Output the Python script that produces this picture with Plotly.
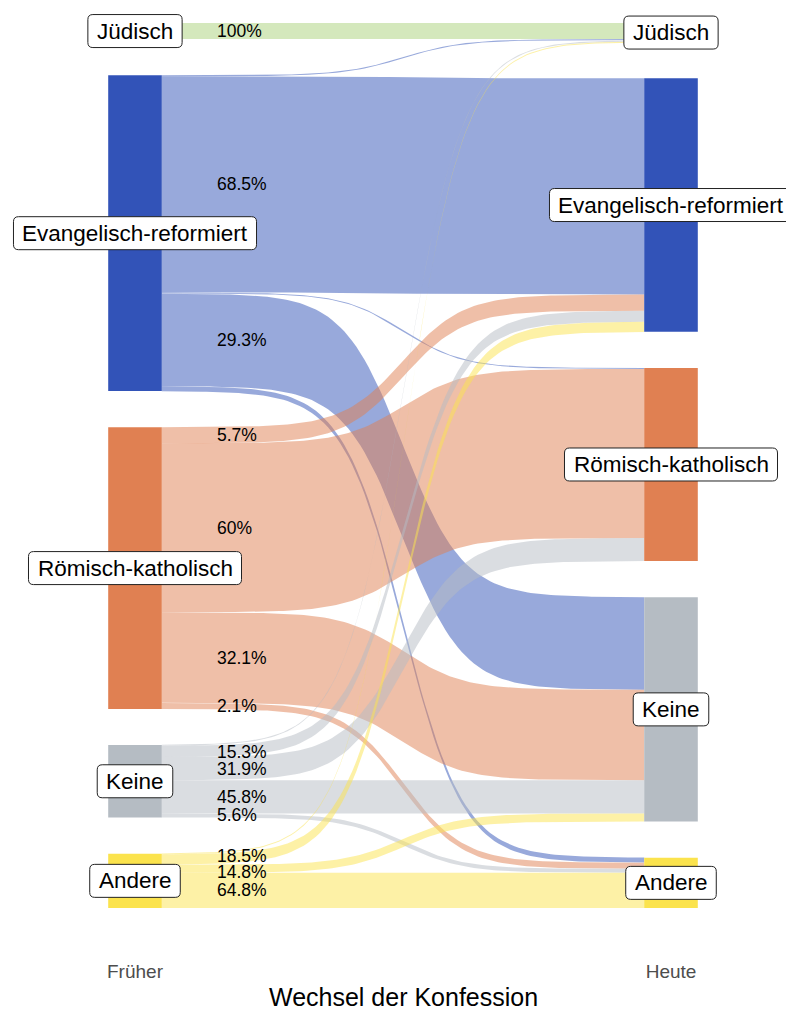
import numpy as np
import plotly.graph_objects as go

# ---------------- data ----------------
nodes = ["Jüdisch", "Evangelisch-reformiert", "Römisch-katholisch", "Keine", "Andere"]
node_colors = ["#a9d279", "#3253b8", "#e08052", "#b5bcc3", "#fbe34d"]
flow_colors = ["rgba(169,210,121,0.5)", "rgba(50,83,184,0.5)", "rgba(224,128,82,0.5)",
               "rgba(181,188,195,0.5)", "rgba(251,227,77,0.5)"]

flow_source = ["Jüdisch",
               "Evangelisch-reformiert", "Evangelisch-reformiert", "Evangelisch-reformiert",
               "Evangelisch-reformiert", "Evangelisch-reformiert",
               "Römisch-katholisch", "Römisch-katholisch", "Römisch-katholisch", "Römisch-katholisch",
               "Keine", "Keine", "Keine", "Keine", "Keine",
               "Andere", "Andere", "Andere", "Andere"]
flow_target = ["Jüdisch",
               "Jüdisch", "Evangelisch-reformiert", "Römisch-katholisch", "Keine", "Andere",
               "Evangelisch-reformiert", "Römisch-katholisch", "Keine", "Andere",
               "Jüdisch", "Evangelisch-reformiert", "Römisch-katholisch", "Keine", "Andere",
               "Jüdisch", "Evangelisch-reformiert", "Keine", "Andere"]
flow_count = [16,
              1, 215, 1, 92, 5,
              16, 168, 90, 6,
              1, 11, 23, 33, 4,
              1, 10, 8, 35]

axis_labels = ["Früher", "Heute"]
axis_title = "Wechsel der Konfession"

# ---------------- layout parameters ----------------
GAP = 36          # space between nodes (count units)
NODE_W = 0.1      # node width (x units)
SMOOTH = 8
LABEL_MIN_PCT = 2.0
FONT = "Liberation Sans, Arial, sans-serif"
NODE_FS = 22.5
PCT_FS = 17.5

# page has an 8px body margin: figure occupies page x 8..794, y 8..1010
OFF = 8
W = 794 - OFF
H = 1010 - OFF
PLOT_H = 958 - OFF          # plot area bottom (figure px)
X1_PX = 135 - OFF           # x = 1 position (figure px)
UNIT_X = 536
Y0_PX = 23 - OFF            # top of first node (figure px)
YB_PX = 908 - OFF           # bottom of last node (figure px)

idx = {n: i for i, n in enumerate(nodes)}
n_flows = len(flow_count)

left_tot = [sum(c for s, c in zip(flow_source, flow_count) if s == n) for n in nodes]
right_tot = [sum(c for t, c in zip(flow_target, flow_count) if t == n) for n in nodes]


def stack(tot):
    tops, y = [], 0.0
    for t in tot:
        tops.append(y)
        y += t + GAP
    return tops


left_top = stack(left_tot)
right_top = stack(right_tot)

total_h = sum(left_tot) + GAP * (len(nodes) - 1)
k_px = (YB_PX - Y0_PX) / total_h
y_top = -Y0_PX / k_px
y_bot = total_h + (PLOT_H - YB_PX) / k_px

# flow offsets inside nodes
order_left = sorted(range(n_flows), key=lambda i: (idx[flow_source[i]], idx[flow_target[i]]))
order_right = sorted(range(n_flows), key=lambda i: (idx[flow_target[i]], idx[flow_source[i]]))
fy0 = [0.0] * n_flows
fy1 = [0.0] * n_flows
cur = list(left_top)
for i in order_left:
    s = idx[flow_source[i]]
    fy0[i] = cur[s]
    cur[s] += flow_count[i]
cur = list(right_top)
for i in order_right:
    t = idx[flow_target[i]]
    fy1[i] = cur[t]
    cur[t] += flow_count[i]


def sigmoid(x0, x1, y0, y1, n=120):
    z = np.linspace(-SMOOTH, SMOOTH, n)
    s = np.exp(z) / (np.exp(z) + 1)
    xs = (z + SMOOTH) / (2 * SMOOTH) * (x1 - x0) + x0
    ys = s * (y1 - y0) + y0
    return xs, ys


fig = go.Figure()

xa, xb = 1 + NODE_W / 2, 2 - NODE_W / 2
for i in range(n_flows):
    c = flow_count[i]
    xs, ytop = sigmoid(xa, xb, fy0[i], fy1[i])
    _, ybot = sigmoid(xa, xb, fy0[i] + c, fy1[i] + c)
    px = np.concatenate([xs, xs[::-1]])
    py = np.concatenate([ytop, ybot[::-1]])
    fig.add_trace(go.Scatter(x=px, y=py, mode="lines", fill="toself",
                             fillcolor=flow_colors[idx[flow_source[i]]],
                             line=dict(width=0), hoverinfo="skip", showlegend=False))

# nodes
for col_x, tops, tots in [(1, left_top, left_tot), (2, right_top, right_tot)]:
    for k, n in enumerate(nodes):
        x0, x1 = col_x - NODE_W / 2, col_x + NODE_W / 2
        y0, y1 = tops[k], tops[k] + tots[k]
        fig.add_trace(go.Scatter(x=[x0, x1, x1, x0, x0], y=[y0, y0, y1, y1, y0],
                                 mode="lines", fill="toself", fillcolor=node_colors[k],
                                 line=dict(width=0), hoverinfo="skip", showlegend=False))

annotations = []
shapes = []

# percentage labels (with a simple vertical repel)
lab = []
for i in range(n_flows):
    s = idx[flow_source[i]]
    pct = flow_count[i] / left_tot[s] * 100
    if pct < LABEL_MIN_PCT:
        continue
    lab.append([fy0[i] + flow_count[i] / 2, f"{round(pct, 1):g}%"])
lab.sort(key=lambda t: t[0])
min_sep = 16 / k_px
for _ in range(50):
    for j in range(len(lab) - 1):
        d = lab[j + 1][0] - lab[j][0]
        if d < min_sep:
            push = (min_sep - d) / 2
            lab[j][0] -= push
            lab[j + 1][0] += push
for yv, txt in lab:
    annotations.append(dict(x=1.15, y=yv, xref="x", yref="y",
                            text=txt, showarrow=False, xanchor="left", yanchor="middle",
                            font=dict(family=FONT, size=PCT_FS, color="black")))

# node labels in rounded boxes
CW = {"J": 500, "ü": 556, "d": 556, "i": 222, "s": 500, "c": 500, "h": 556, "E": 667,
      "v": 500, "a": 556, "n": 556, "g": 556, "l": 222, "-": 333, "r": 333, "e": 556,
      "f": 278, "o": 556, "m": 833, "t": 278, "R": 722, "ö": 556, "k": 500, "K": 667, "A": 667}


def text_w(s, fs):
    return sum(CW.get(ch, 556) for ch in s) / 1000 * fs


def rrect(w, h, r):
    a, b = w / 2, h / 2
    return (f"M {-a + r},{-b} L {a - r},{-b} Q {a},{-b} {a},{-b + r} "
            f"L {a},{b - r} Q {a},{b} {a - r},{b} L {-a + r},{b} Q {-a},{b} {-a},{b - r} "
            f"L {-a},{-b + r} Q {-a},{-b} {-a + r},{-b} Z")


PAD_X = 9
BOX_H = 33
for col_x, tops, tots in [(1, left_top, left_tot), (2, right_top, right_tot)]:
    for k, n in enumerate(nodes):
        yc = tops[k] + tots[k] / 2
        bw = text_w(n, NODE_FS) + 2 * PAD_X
        shapes.append(dict(type="path", xref="x", yref="y", xsizemode="pixel", ysizemode="pixel",
                           xanchor=col_x, yanchor=yc, path=rrect(bw, BOX_H, 5),
                           fillcolor="white", line=dict(color="#222222", width=1), layer="above"))
        annotations.append(dict(x=col_x, y=yc, xref="x", yref="y",
                                text=n, showarrow=False,
                                xanchor="center", yanchor="middle",
                                font=dict(family=FONT, size=NODE_FS, color="black")))

annotations.append(dict(x=(404 - OFF) / W, y=-(997 - 958) / PLOT_H, xref="paper", yref="paper",
                        text=axis_title, showarrow=False, xanchor="center", yanchor="middle",
                        font=dict(family=FONT, size=25, color="black")))

fig.update_layout(
    width=W, height=H,
    margin=dict(l=0, r=0, t=0, b=H - PLOT_H),
    paper_bgcolor="white", plot_bgcolor="white",
    annotations=annotations, shapes=shapes,
    xaxis=dict(range=[1 - X1_PX / UNIT_X, 1 + (W - X1_PX) / UNIT_X], tickvals=[1, 2],
               ticktext=axis_labels, showgrid=False, zeroline=False, showline=False,
               ticks="", tickfont=dict(family=FONT, size=19, color="#4d4d4d")),
    yaxis=dict(range=[y_bot, y_top], showgrid=False, zeroline=False, showline=False,
               showticklabels=False, ticks=""),
)

fig.write_html("out.html")
